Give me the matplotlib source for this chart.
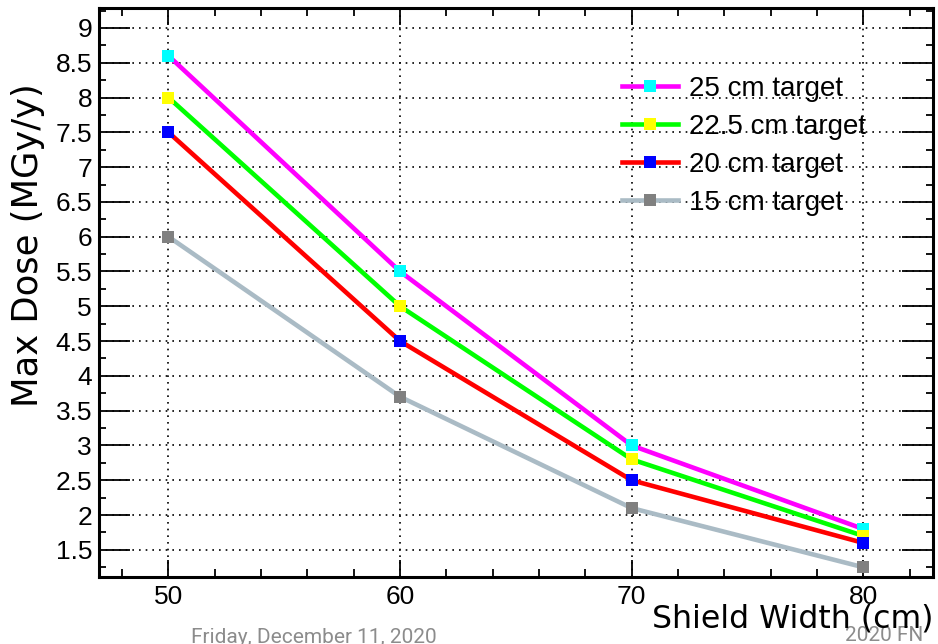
import numpy as np
import matplotlib
matplotlib.use("Agg")
import matplotlib.pyplot as plt
from matplotlib.ticker import MultipleLocator

plt.rcParams["font.family"] = ["Liberation Sans", "DejaVu Sans"]

# shield widths (cm) and max dose (MGy/y) per target length
shield_width = [50, 60, 70, 80]
dose_25 = [8.6, 5.5, 3.0, 1.8]
dose_22_5 = [8.0, 5.0, 2.8, 1.7]
dose_20 = [7.5, 4.5, 2.5, 1.6]
dose_15 = [6.0, 3.7, 2.1, 1.25]

series = [
    ("25 cm target", dose_25, "#ff00ff", "#00ffff"),
    ("22.5 cm target", dose_22_5, "#00ff00", "#ffff00"),
    ("20 cm target", dose_20, "#ff0000", "#0000ff"),
    ("15 cm target", dose_15, "#aabbc5", "#808080"),
]

fig = plt.figure(figsize=(9.38, 6.44), dpi=100)
ax = fig.add_axes([0.1055, 0.104, 0.889, 0.884])

for label, vals, lc, mc in series:
    ax.plot(shield_width, vals, "-s", color=lc, lw=3.3, ms=8.5,
            mfc=mc, mec=mc, mew=0, label=label, zorder=3)

ax.set_xlim(47, 83)
ax.set_ylim(1.11, 9.29)
ax.xaxis.set_major_locator(MultipleLocator(10))
ax.xaxis.set_minor_locator(MultipleLocator(2))
ax.yaxis.set_major_locator(MultipleLocator(0.5))
ax.yaxis.set_minor_locator(MultipleLocator(0.25))
ax.yaxis.set_major_formatter(plt.FuncFormatter(lambda v, p: f"{v:g}"))

ax.grid(True, which="major", color="black", linestyle=(0, (1, 3)), lw=1.2)
for s in ax.spines.values():
    s.set_linewidth(2.2)

ax.tick_params(axis="both", which="both", direction="in", top=True, right=True,
               labelsize=19, width=1.3)
ax.tick_params(axis="x", which="major", length=12, pad=6)
ax.tick_params(axis="x", which="minor", length=6)
ax.tick_params(axis="y", which="major", length=22, pad=5)
ax.tick_params(axis="y", which="minor", length=5)

# axis titles placed ROOT-style (right / top aligned)
title_font = ["DejaVu Sans", "Liberation Sans"]
fig.text(933 / 938, (644 - 628) / 644, "Shield Width (cm)", fontsize=22.7,
         family=title_font, ha="right", va="baseline", zorder=5)
fig.text(28 / 938, (644 - 83) / 644, "Max Dose (MGy/y)", fontsize=25.5,
         family=title_font, rotation=90, ha="center", va="top", zorder=5)

ax.legend(loc="upper left", bbox_to_anchor=(622 / 938, (644 - 76) / 644),
          bbox_transform=fig.transFigure, frameon=False, borderpad=0,
          borderaxespad=0, fontsize=20, handlelength=2.0, handletextpad=0.4,
          labelspacing=0.43)

# slide footer underneath the plot
footer_font = ["Roboto", "DejaVu Sans"]
fig.text(191 / 938, 1 / 644, "Friday, December 11, 2020", color="#8c8c8c",
         fontsize=15, family=footer_font, va="baseline", zorder=-1)
fig.text(845 / 938, 3 / 644, "2020 FN", color="#8c8c8c",
         fontsize=15, family=footer_font, va="baseline", zorder=-1)

fig.savefig("out.png", dpi=100)
